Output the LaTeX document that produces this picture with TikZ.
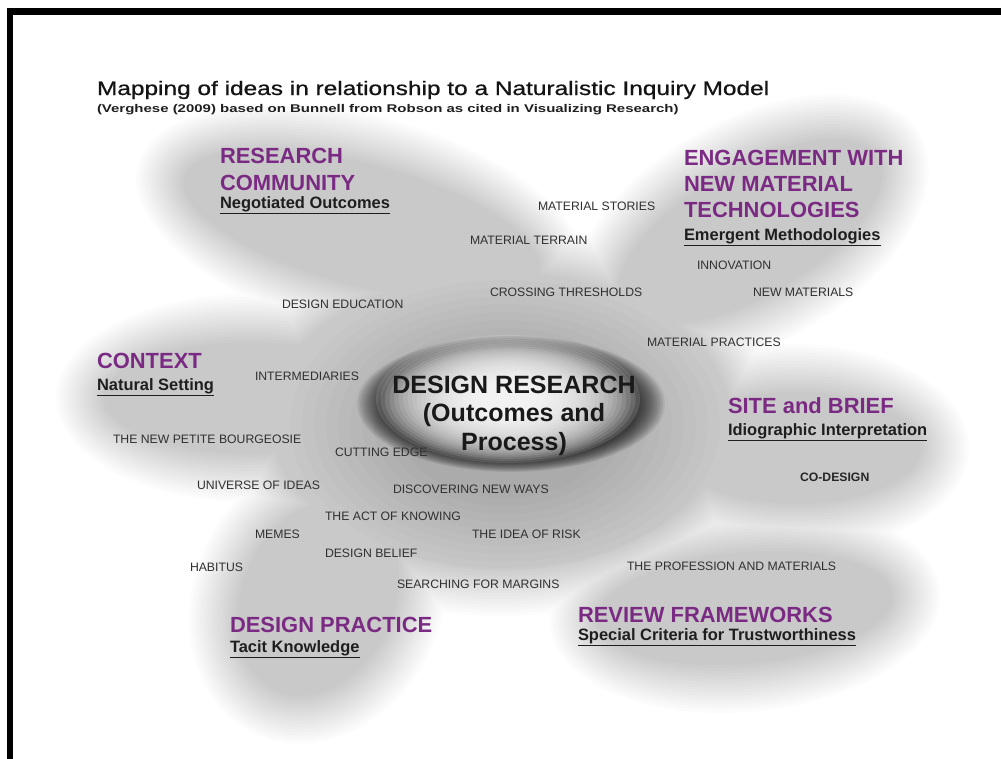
\documentclass[tikz,border=0pt]{standalone}
\usepackage{fontspec}
\usepackage{graphicx}
\setmainfont{Liberation Sans}
\definecolor{headpurple}{RGB}{122,42,130}
\definecolor{labelgray}{RGB}{48,48,48}
\definecolor{subblack}{RGB}{30,30,30}

% one petal as a piece of path: centre x, centre y, x radius, y radius, rotation;
% grown by \grow
\newcommand\softpetal[5]{%
  {[shift={(#1,#2)}, rotate=#5] (0,0) ellipse [x radius={#3+\grow}, y radius={#4+\grow}]}}

\begin{document}
\begin{tikzpicture}[x=0.025cm, y=-0.025cm,
  every node/.style={inner sep=0pt, outer sep=0pt},
  idea/.style={anchor=west, font=\fontsize{8.7}{10}\selectfont, text=labelgray},
  headline/.style={anchor=base west, font=\fontsize{15.6}{18}\selectfont\bfseries, text=headpurple},
  subline/.style={anchor=base west, font=\fontsize{11.7}{14}\selectfont\bfseries, text=subblack},
  core/.style={anchor=base, font=\fontsize{17.8}{20}\selectfont\bfseries, text=black!90},
]
\useasboundingbox (0,0) rectangle (1001,758);
\fill[white] (0,0) rectangle (1001,758);

% the grey flower: each layer is one path made of all petals (non-zero rule,
% so overlaps are filled once), slightly grown and laid down faintly
\foreach \k in {0,...,17}{
  \pgfmathsetmacro\grow{-24+\k*48/17}
  \fill[black, opacity=0.0135, nonzero rule]
    \softpetal{362}{225}{208}{85}{-15}   % research community
    \softpetal{750}{232}{172}{88}{30}    % engagement with new material technologies
    \softpetal{250}{398}{170}{80}{0}     % context
    \softpetal{795}{448}{150}{80}{0}     % site and brief
    \softpetal{318}{598}{100}{126}{-25}  % design practice
    \softpetal{745}{608}{172}{80}{5}     % review frameworks
    \softpetal{500}{420}{255}{172}{0};   % body of the flower
}

% darker haze round the centre
\foreach \k in {0,...,9}{
  \fill[black, opacity=0.012] (505,425) ellipse [x radius={215-12*\k}, y radius={145-8*\k}];
}
% dark rim of the central ellipse
\foreach \k in {0,...,15}{
  \fill[black, opacity=0.06] (511,404) ellipse [x radius={154-1.6*\k}, y radius={68-0.7*\k}];
}
% bright core, fading out towards the rim
\foreach \k in {0,...,23}{
  \fill[white, opacity=0.12] (508,399) ellipse [x radius={132-4.5*\k}, y radius={64-2.1*\k}];
}

% frame
\begin{scope}
  \clip (0,0) rectangle (1001,758);
  \draw[line width=4.6pt, black] (10,800) -- (10,11.5) -- (1050,11.5);
\end{scope}

% title
\node[anchor=base west, font=\fontsize{13.9}{16}\selectfont\addfontfeature{FakeBold=0.7}, text=black!92] (title) at (97,95)
  {\scalebox{1.25}[1]{Mapping of ideas in relationship to a Naturalistic Inquiry Model}};
\node[anchor=base west, font=\fontsize{7.95}{9}\selectfont\bfseries, text=black!88] (subtitle) at (97,112.5)
  {\scalebox{1.34}[1]{(Verghese (2009) based on Bunnell from Robson as cited in Visualizing Research)}};

% centre
\node[core] (c1) at (514,393) {DESIGN RESEARCH};
\node[core] (c2) at (514,421) {(Outcomes and};
\node[core] (c3) at (514,450) {Process)};

% petal headings
\node[headline] (rc1) at (220,163) {RESEARCH};
\node[headline] (rc2) at (220,190) {COMMUNITY};
\node[subline]  (rc3) at (220,208) {\underline{Negotiated Outcomes}};

\node[headline] (en1) at (684,165) {ENGAGEMENT WITH};
\node[headline] (en2) at (684,191) {NEW MATERIAL};
\node[headline] (en3) at (684,217) {TECHNOLOGIES};
\node[subline]  (en4) at (684,240) {\underline{Emergent Methodologies}};

\node[headline] (cx1) at (97,368) {CONTEXT};
\node[subline]  (cx2) at (97,390) {\underline{Natural Setting}};

\node[headline] (sb1) at (728,413) {SITE and BRIEF};
\node[subline]  (sb2) at (728,435) {\underline{Idiographic Interpretation}};

\node[headline] (dp1) at (230,632) {DESIGN PRACTICE};
\node[subline]  (dp2) at (230,652) {\underline{Tacit Knowledge}};

\node[headline] (rf1) at (578,622) {REVIEW FRAMEWORKS};
\node[subline]  (rf2) at (578,640) {\underline{Special Criteria for Trustworthiness}};

% ideas
\node[idea] (i1)  at (538,206) {MATERIAL STORIES};
\node[idea] (i2)  at (470,240) {MATERIAL TERRAIN};
\node[idea] (i3)  at (490,292) {CROSSING THRESHOLDS};
\node[idea] (i4)  at (282,304) {DESIGN EDUCATION};
\node[idea] (i5)  at (647,342) {MATERIAL PRACTICES};
\node[idea] (i6)  at (697,265) {INNOVATION};
\node[idea] (i7)  at (753,292) {NEW MATERIALS};
\node[idea] (i8)  at (255,376) {INTERMEDIARIES};
\node[idea] (i9)  at (113,439) {THE NEW PETITE BOURGEOSIE};
\node[idea] (i10) at (335,452) {CUTTING EDGE};
\node[idea] (i11) at (197,485) {UNIVERSE OF IDEAS};
\node[idea] (i12) at (393,489) {DISCOVERING NEW WAYS};
\node[idea] (i13) at (325,516) {THE ACT OF KNOWING};
\node[idea] (i14) at (255,534) {MEMES};
\node[idea] (i15) at (472,534) {THE IDEA OF RISK};
\node[idea] (i16) at (325,553) {DESIGN BELIEF};
\node[idea] (i17) at (190,567) {HABITUS};
\node[idea] (i18) at (397,584) {SEARCHING FOR MARGINS};
\node[idea] (i19) at (627,566) {THE PROFESSION AND MATERIALS};
\node[idea, font=\fontsize{8.7}{10}\selectfont\bfseries, text=black!85] (i20) at (800,477) {CO-DESIGN};
\end{tikzpicture}
\end{document}
